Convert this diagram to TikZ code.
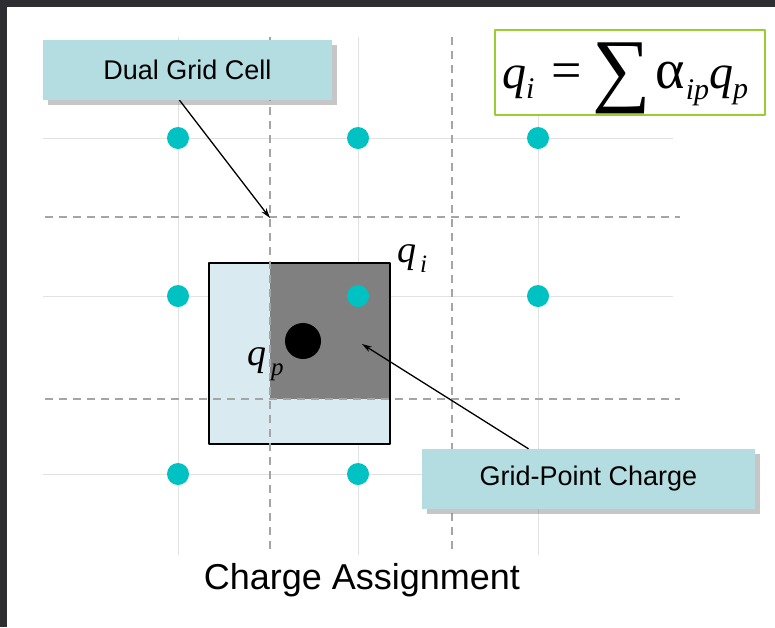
\RequirePackage{fix-cm}
\documentclass[tikz,border=0pt]{standalone}
\usepackage{fontspec}
\setmainfont{Liberation Sans}
\newfontfamily\formulafont{Liberation Serif}
\usetikzlibrary{shadows,arrows.meta}

\definecolor{calloutfill}{RGB}{180,221,225}
\definecolor{cloudlight}{RGB}{217,235,240}
\definecolor{clouddark}{RGB}{128,128,128}
\definecolor{meshdot}{RGB}{0,194,194}
\definecolor{meshgray}{RGB}{226,226,226}
\definecolor{dualgray}{RGB}{165,165,165}
\definecolor{formulaedge}{RGB}{154,205,50}
\definecolor{screenedge}{RGB}{45,45,50}

% charge symbol with lowered subscript (optional: subscript size)
\newcommand{\chg}[3][25]{{\formulafont\itshape #2\raisebox{-10pt}{\fontsize{#1}{#1}\selectfont #3}}}

\begin{document}
\begin{tikzpicture}[x=1pt, y=-1pt, >={Stealth[length=10pt,width=6pt]}, line join=round]
  \useasboundingbox (0,0) rectangle (775,627);
  % screen edge at top and left
  \fill[screenedge] (0,0) rectangle (775,7);
  \fill[screenedge] (0,0) rectangle (7,627);

  % Styles
  \tikzset{
    meshline/.style={line width=1pt, color=meshgray},
    dualline/.style={line width=1.6pt, color=dualgray, dash pattern=on 8pt off 6pt},
    meshpoint/.style={fill=meshdot},
    callout/.style={fill=calloutfill, minimum height=60pt, inner sep=0pt,
      font=\fontsize{27}{30}\selectfont,
      drop shadow={shadow xshift=5pt, shadow yshift=-5pt, opacity=0.45}},
    pointer/.style={->, line width=1.3pt},
    chargelabel/.style={inner sep=0pt, anchor=base west, font=\fontsize{38}{44}\selectfont},
  }

  % Mesh (grid points and lines)
  \foreach \x in {178,358,538} \draw[meshline] (\x,37) -- (\x,555);
  \foreach \y in {138,296,474} \draw[meshline] (43,\y) -- (673,\y);

  % Charge cloud of the particle
  \fill[cloudlight] (209,263) rectangle (390,444);
  \fill[clouddark] (270,263) rectangle (390,399);
  \draw[line width=2pt] (209,263) rectangle (390,444);

  % Dual grid (dashed)
  \foreach \x in {270,452} \draw[dualline] (\x,37) -- (\x,553);
  \foreach \y in {217,399} \draw[dualline] (45,\y) -- (680,\y);

  % Grid points
  \foreach \x/\y in {178/138,358/138,538/138,178/296,358/296,538/296,178/474,358/474,538/474}
    \fill[meshpoint] (\x,\y) circle (11pt);

  % Particle
  \fill[black] (303,341) circle (18pt);
  \node[chargelabel] (qp) at (247,365) {\chg{q}{\hspace{5pt}p}};
  \node[chargelabel] (qi) at (397,262) {\chg{q}{\hspace{4pt}i}};

  % Callouts
  \coordinate (dualcorner) at (270,218);
  \coordinate (cloudpoint) at (362,344);
  \node[callout, minimum width=289pt] (dualcell) at (187.5,70) {Dual Grid Cell};
  \node[callout, minimum width=333pt] (gridcharge) at (588.5,479) {Grid-Point Charge};
  \draw[pointer] ([xshift=-8pt]dualcell.south) -- (dualcorner);
  \draw[pointer] ([xshift=-60pt]gridcharge.north) -- (cloudpoint);

  % Formula
  \node[draw=formulaedge, line width=2pt, fill=white, minimum width=270pt, minimum height=85pt]
    (formula) at (630,72) {};
  \node[inner sep=0pt, anchor=base west, font=\fontsize{48}{50}\selectfont] (sumrule) at (502,88)
    {\chg[30]{q}{i}\hspace{17pt}{\formulafont\fontsize{54}{56}\selectfont =}\hspace{11pt}%
     \raisebox{-8pt}{\formulafont\fontsize{82}{82}\selectfont ∑}\hspace{4pt}%
     {\formulafont\fontsize{56}{56}\selectfont α}\hspace{1pt}%
     \raisebox{-11pt}{\formulafont\itshape\fontsize{30}{30}\selectfont ip}\chg[30]{q}{p}};

  % Caption
  \node[font=\fontsize{36}{40}\selectfont] (caption) at (362,580) {Charge Assignment};
\end{tikzpicture}
\end{document}
